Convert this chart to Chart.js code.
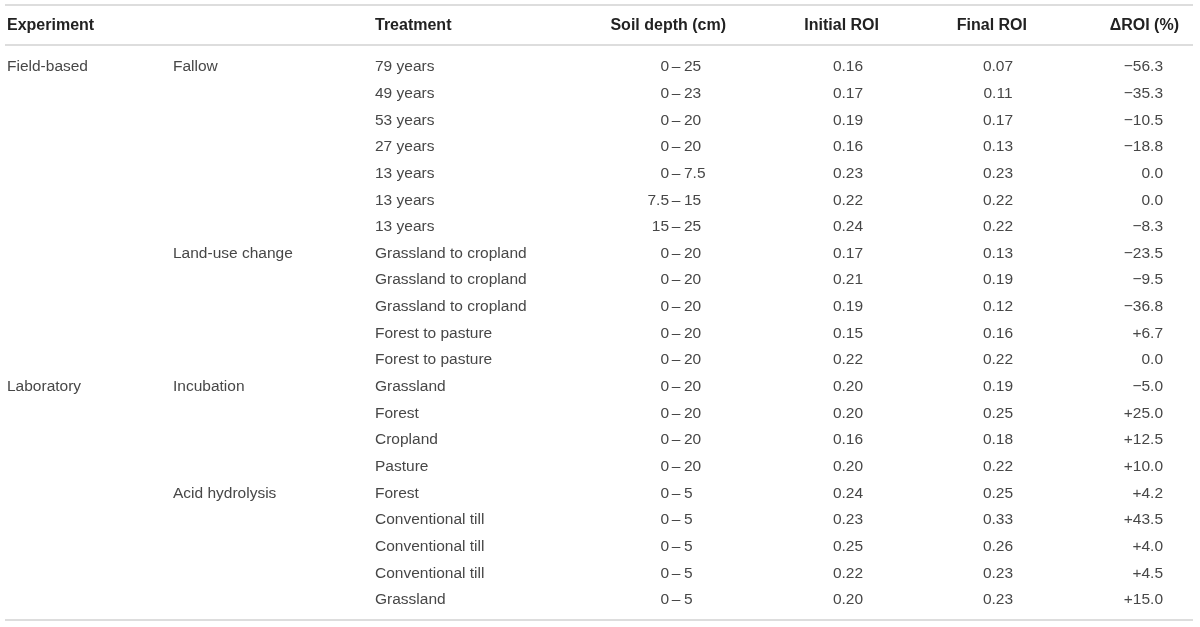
<!DOCTYPE html>
<html>
<head>
<meta charset="utf-8">
<script src="https://cdn.jsdelivr.net/npm/chart.js@4"></script>
<style>
  html, body { margin: 0; padding: 0; background: #ffffff; }
  #table { display: block; }
</style>
</head>
<body>
<canvas id="table" width="1200" height="627"></canvas>
<script>
// table data, one entry per body row
const headers = ['Experiment', '', 'Treatment', 'Soil depth (cm)', 'Initial ROI', 'Final ROI', '\u0394ROI (%)'];

const experiments = ['Field-based', '', '', '', '', '', '', '', '', '', '', '',
    'Laboratory', '', '', '', '', '', '', '', ''];

const groups = ['Fallow', '', '', '', '', '', '', 'Land-use change', '', '', '', '',
    'Incubation', '', '', '', 'Acid hydrolysis', '', '', '', ''];

const treatments = ['79 years', '49 years', '53 years', '27 years', '13 years', '13 years', '13 years',
    'Grassland to cropland', 'Grassland to cropland', 'Grassland to cropland',
    'Forest to pasture', 'Forest to pasture',
    'Grassland', 'Forest', 'Cropland', 'Pasture',
    'Forest', 'Conventional till', 'Conventional till', 'Conventional till', 'Grassland'];

const depths = ['0\u201325', '0\u201323', '0\u201320', '0\u201320', '0\u20137.5', '7.5\u201315', '15\u201325',
    '0\u201320', '0\u201320', '0\u201320', '0\u201320', '0\u201320',
    '0\u201320', '0\u201320', '0\u201320', '0\u201320',
    '0\u20135', '0\u20135', '0\u20135', '0\u20135', '0\u20135'];

const initialROI = [0.16, 0.17, 0.19, 0.16, 0.23, 0.22, 0.24, 0.17, 0.21, 0.19, 0.15, 0.22,
    0.20, 0.20, 0.16, 0.20, 0.24, 0.23, 0.25, 0.22, 0.20];

const finalROI = [0.07, 0.11, 0.17, 0.13, 0.23, 0.22, 0.22, 0.13, 0.19, 0.12, 0.16, 0.22,
    0.19, 0.25, 0.18, 0.22, 0.25, 0.33, 0.26, 0.23, 0.23];

const deltaROI = [-56.3, -35.3, -10.5, -18.8, 0.0, 0.0, -8.3, -23.5, -9.5, -36.8, 6.7, 0.0,
    -5.0, 25.0, 12.5, 10.0, 4.2, 43.5, 4.0, 4.5, 15.0];

function fmtDelta(v) {
    if (v === 0) {
        return '0.0';
    }
    return (v < 0 ? '\u2212' : '+') + Math.abs(v).toFixed(1);
}

// column anchors on the x scale (0..1200) and how text sits on them
const columns = [
    { x: 7,    align: 'left',   header: 'left',  hx: 7,    texts: experiments },
    { x: 173,  align: 'left',   header: 'left',  hx: 173,  texts: groups },
    { x: 375,  align: 'left',   header: 'left',  hx: 375,  texts: treatments },
    { x: 676,  align: 'dash',   header: 'right', hx: 726,  texts: depths },
    { x: 848,  align: 'center', header: 'right', hx: 879,  texts: initialROI.map(v => v.toFixed(2)) },
    { x: 998,  align: 'center', header: 'right', hx: 1027, texts: finalROI.map(v => v.toFixed(2)) },
    { x: 1163, align: 'right',  header: 'right', hx: 1179, texts: deltaROI.map(fmtDelta) }
];

const BODY_FONT = '15.5px "Liberation Sans", Arial, sans-serif';
const HEAD_FONT = 'bold 16px "Liberation Sans", Arial, sans-serif';
const BODY_COLOR = '#474747';
const HEAD_COLOR = '#222222';
const RULE_COLOR = '#dddddd';

const tablePlugin = {
    id: 'tableText',
    beforeDraw(chart) {
        const ctx = chart.ctx;
        const xs = chart.scales.x;
        ctx.save();
        ctx.strokeStyle = RULE_COLOR;
        ctx.lineWidth = 2;
        [5, 45, 620].forEach(y => {
            ctx.beginPath();
            ctx.moveTo(xs.getPixelForValue(5), y);
            ctx.lineTo(xs.getPixelForValue(1193), y);
            ctx.stroke();
        });
        ctx.restore();
    },
    afterDatasetsDraw(chart) {
        const ctx = chart.ctx;
        const xs = chart.scales.x;
        ctx.save();
        ctx.textBaseline = 'middle';

        ctx.font = HEAD_FONT;
        ctx.fillStyle = HEAD_COLOR;
        headers.forEach((h, c) => {
            ctx.textAlign = columns[c].header;
            ctx.fillText(h, xs.getPixelForValue(columns[c].hx), 26);
        });

        ctx.font = BODY_FONT;
        ctx.fillStyle = BODY_COLOR;
        chart.data.datasets.forEach((ds, c) => {
            const col = columns[c];
            chart.getDatasetMeta(c).data.forEach((pt, i) => {
                const text = col.texts[i];
                if (!text) {
                    return;
                }
                if (col.align === 'dash') {
                    const parts = text.split('\u2013');
                    ctx.textAlign = 'right';
                    ctx.fillText(parts[0], pt.x - 7, pt.y);
                    ctx.textAlign = 'center';
                    ctx.fillText('\u2013', pt.x, pt.y);
                    ctx.textAlign = 'left';
                    ctx.fillText(parts[1], pt.x + 8, pt.y);
                } else {
                    ctx.textAlign = col.align;
                    ctx.fillText(text, pt.x, pt.y);
                }
            });
        });
        ctx.restore();
    }
};

new Chart(document.getElementById('table').getContext('2d'), {
    type: 'scatter',
    data: {
        datasets: columns.map(col => ({
            data: col.texts.map((t, i) => ({ x: col.x, y: i })),
            pointRadius: 0
        }))
    },
    options: {
        responsive: false,
        animation: false,
        events: [],
        layout: { padding: { top: 53.7, bottom: 13.7, left: 0, right: 0 } },
        scales: {
            x: { type: 'linear', min: 0, max: 1200, display: false },
            y: { type: 'linear', min: -0.5, max: treatments.length - 0.5, reverse: true, display: false }
        },
        plugins: {
            legend: { display: false },
            tooltip: { enabled: false }
        }
    },
    plugins: [tablePlugin]
});
</script>
</body>
</html>
